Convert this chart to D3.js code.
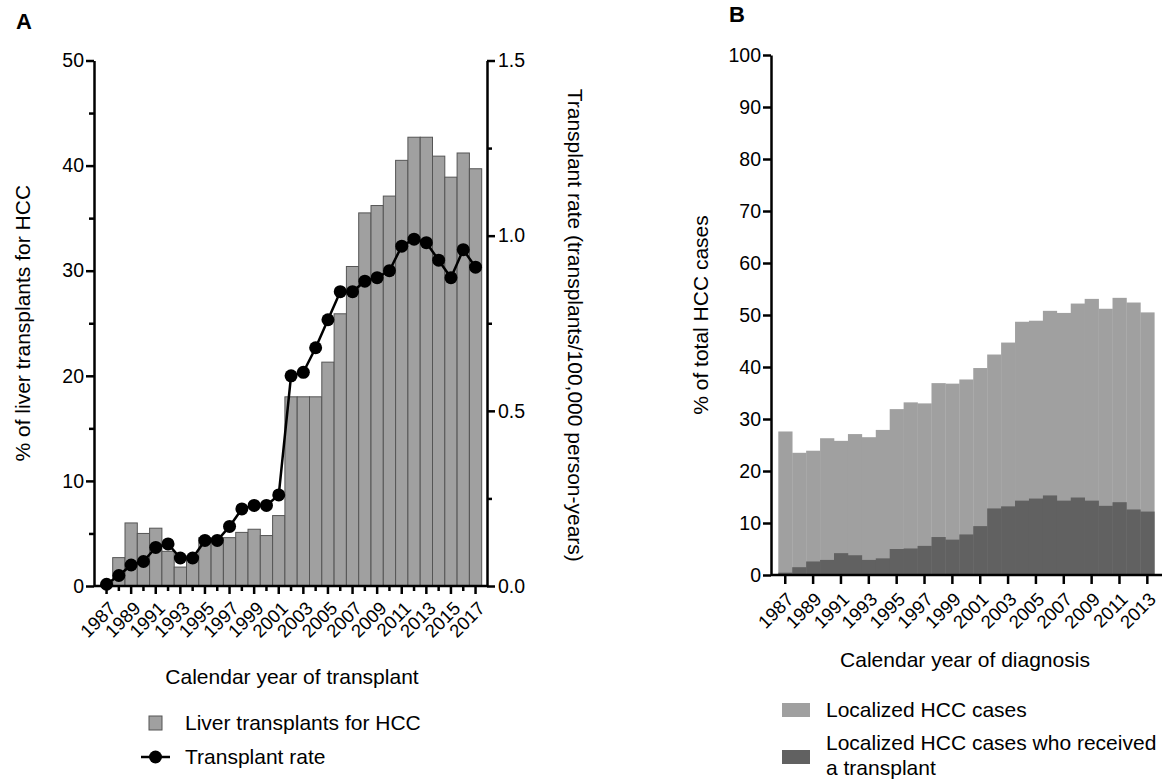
<!DOCTYPE html>
<html>
<head>
<meta charset="utf-8">
<script src="https://cdn.jsdelivr.net/npm/d3@7"></script>
<style>
  body { margin: 0; background: #fff; }
  text { font-family: "Liberation Sans", Arial, sans-serif; fill: #000; }
</style>
</head>
<body>
<div id="chart"></div>
<script>
// ---- data, panel A ----
const yearsA = d3.range(1987, 2018);
const transplantPct = [0, 2.7, 6.0, 5.0, 5.5, 3.3, 1.8, 2.6, 4.6, 4.5, 4.6, 5.1, 5.4, 4.8, 6.7,
  18.0, 18.0, 18.0, 21.3, 25.9, 30.4, 35.5, 36.2, 37.1, 40.5, 42.7, 42.7, 40.9, 38.9, 41.2, 39.7];
const transplantRate = [0.005, 0.03, 0.06, 0.07, 0.11, 0.12, 0.08, 0.08, 0.13, 0.13, 0.17, 0.22, 0.23, 0.23, 0.26,
  0.60, 0.61, 0.68, 0.76, 0.84, 0.84, 0.87, 0.88, 0.90, 0.97, 0.99, 0.98, 0.93, 0.88, 0.96, 0.91];
const leftTicksA = [0, 10, 20, 30, 40, 50];
const rightTicksA = [0, 0.5, 1.0, 1.5];

// ---- data, panel B ----
const yearsB = d3.range(1987, 2014);
const localized = [27.6, 23.5, 23.9, 26.3, 25.8, 27.1, 26.5, 27.9, 31.9, 33.2, 33.0, 36.9, 36.8, 37.6,
  39.8, 42.4, 44.7, 48.7, 48.9, 50.8, 50.4, 52.2, 53.1, 51.2, 53.3, 52.4, 50.5];
const localizedTransplant = [0.45, 1.5, 2.6, 2.9, 4.2, 3.8, 2.9, 3.2, 5.0, 5.1, 5.6, 7.3, 6.8, 7.8,
  9.4, 12.8, 13.2, 14.3, 14.7, 15.3, 14.3, 14.9, 14.3, 13.3, 14.0, 12.6, 12.2];
const ticksB = d3.range(0, 101, 10);

const W = 1173, H = 782;
const svg = d3.select("#chart").append("svg")
  .attr("width", W).attr("height", H);

const lightGrey = "#a0a0a0", darkGrey = "#616161";
const fs = 21;       // titles & legend
const tickFs = 19.5; // y tick labels
const xTickFs = 18.5;

// ================= Panel A =================
const axA = {left: 94, right: 487, top: 60.5, bottom: 586};
const xA = d3.scaleBand().domain(yearsA).range([100.4, 481.7]).paddingInner(0);
const yA = d3.scaleLinear().domain([0, 50]).range([axA.bottom, axA.top]);
const yRate = d3.scaleLinear().domain([0, 1.5]).range([axA.bottom, axA.top]);

const gA = svg.append("g");

gA.append("g").selectAll("rect")
  .data(yearsA.map((y, i) => ({year: y, v: transplantPct[i]})))
  .join("rect")
    .attr("x", d => xA(d.year))
    .attr("width", xA.bandwidth())
    .attr("y", d => yA(d.v))
    .attr("height", d => yA(0) - yA(d.v))
    .attr("fill", lightGrey)
    .attr("stroke", "#555")
    .attr("stroke-width", 1);

const ratePts = yearsA.map((y, i) => ({year: y, v: transplantRate[i]}));
gA.append("path")
  .datum(ratePts)
  .attr("fill", "none")
  .attr("stroke", "#000")
  .attr("stroke-width", 2.5)
  .attr("d", d3.line().x(d => xA(d.year) + xA.bandwidth() / 2).y(d => yRate(d.v)));
gA.append("g").selectAll("circle")
  .data(ratePts)
  .join("circle")
    .attr("cx", d => xA(d.year) + xA.bandwidth() / 2)
    .attr("cy", d => yRate(d.v))
    .attr("r", 6.5)
    .attr("fill", "#000");

// left axis
const leftA = gA.append("g").attr("transform", `translate(${axA.left},0)`)
  .call(d3.axisLeft(yA).tickValues(d3.range(0, 51, 5)).tickSize(8).tickSizeOuter(0)
    .tickFormat(d => leftTicksA.includes(d) ? d : ""));
leftA.selectAll(".tick line").filter(d => !leftTicksA.includes(d)).attr("x2", -5);
// right axis
const isMajorR = d => rightTicksA.some(t => Math.abs(t - d) < 1e-6);
const rightA = gA.append("g").attr("transform", `translate(${axA.right},0)`)
  .call(d3.axisRight(yRate).tickValues(d3.range(0, 1.51, 0.25)).tickSize(8).tickSizeOuter(0)
    .tickFormat(d => isMajorR(d) ? d3.format(".1f")(d) : ""));
rightA.selectAll(".tick line").filter(d => !isMajorR(d)).attr("x2", 5);
// bottom axis
const botA = gA.append("g").attr("transform", `translate(0,${axA.bottom})`)
  .call(d3.axisBottom(xA).tickSize(8).tickSizeOuter(0)
    .tickFormat(d => (d - 1987) % 2 === 0 ? d : ""));
botA.select(".domain").attr("d", `M${axA.left},0H${axA.right}`);
botA.selectAll(".tick line").filter(d => (d - 1987) % 2 !== 0).attr("y2", 5);
botA.selectAll(".tick text")
  .attr("transform", "translate(6,19) rotate(-45)")
  .attr("text-anchor", "end")
  .attr("dy", "0.35em")
  .attr("y", 0).attr("x", 0);

[leftA, rightA, botA].forEach(g => {
  g.selectAll(".domain, .tick line").attr("stroke", "#000").attr("stroke-width", 2.5);
  g.selectAll(".tick text").style("font-size", tickFs + "px").style("font-family", "Liberation Sans, Arial, sans-serif");
});
botA.selectAll(".tick text").style("font-size", xTickFs + "px");
leftA.selectAll(".tick text").attr("x", -10);
rightA.selectAll(".tick text").attr("x", 11);

// titles
gA.append("text").attr("transform", `translate(30,${(axA.top + axA.bottom) / 2}) rotate(-90)`)
  .attr("text-anchor", "middle").style("font-size", fs + "px")
  .text("% of liver transplants for HCC");
gA.append("text").attr("transform", `translate(568,${(axA.top + axA.bottom) / 2 + 2}) rotate(90)`)
  .attr("text-anchor", "middle").style("font-size", fs + "px")
  .text("Transplant rate (transplants/100,000 person-years)");
gA.append("text").attr("x", 292).attr("y", 684)
  .attr("text-anchor", "middle").style("font-size", fs + "px")
  .text("Calendar year of transplant");
gA.append("text").attr("x", 16).attr("y", 29).style("font-size", "22px").style("font-weight", "bold").text("A");

// legend A
gA.append("rect").attr("x", 149).attr("y", 716).attr("width", 13).attr("height", 14)
  .attr("fill", lightGrey).attr("stroke", "#555").attr("stroke-width", 1);
gA.append("text").attr("x", 185).attr("y", 730).style("font-size", fs + "px").text("Liver transplants for HCC");
gA.append("line").attr("x1", 141).attr("x2", 170).attr("y1", 757).attr("y2", 757)
  .attr("stroke", "#000").attr("stroke-width", 2.5);
gA.append("circle").attr("cx", 155.5).attr("cy", 757).attr("r", 6.5).attr("fill", "#000");
gA.append("text").attr("x", 185).attr("y", 764).style("font-size", fs + "px").text("Transplant rate");

// ================= Panel B =================
const axB = {left: 771, right: 1162, top: 55, bottom: 575};
const xB = d3.scaleBand().domain(yearsB).range([778.3, 1154.3]).paddingInner(0);
const yB = d3.scaleLinear().domain([0, 100]).range([axB.bottom, axB.top]);

const gB = svg.append("g");
gB.append("g").selectAll("rect")
  .data(yearsB.map((y, i) => ({year: y, v: localized[i]})))
  .join("rect")
    .attr("x", d => xB(d.year))
    .attr("width", xB.bandwidth() + 0.3)
    .attr("y", d => yB(d.v))
    .attr("height", d => yB(0) - yB(d.v))
    .attr("fill", lightGrey);
gB.append("g").selectAll("rect")
  .data(yearsB.map((y, i) => ({year: y, v: localizedTransplant[i]})))
  .join("rect")
    .attr("x", d => xB(d.year))
    .attr("width", xB.bandwidth() + 0.3)
    .attr("y", d => yB(d.v))
    .attr("height", d => yB(0) - yB(d.v))
    .attr("fill", darkGrey);

const leftB = gB.append("g").attr("transform", `translate(${axB.left},0)`)
  .call(d3.axisLeft(yB).tickValues(ticksB).tickSize(8).tickSizeOuter(0));
const botB = gB.append("g").attr("transform", `translate(0,${axB.bottom})`)
  .call(d3.axisBottom(xB).tickValues(yearsB.filter(d => (d - 1987) % 2 === 0)).tickSize(9).tickSizeOuter(0));
botB.select(".domain").attr("d", `M${axB.left},0H${axB.right}`);
botB.selectAll(".tick text")
  .attr("transform", "translate(5,21) rotate(-45)")
  .attr("text-anchor", "end")
  .attr("dy", "0.35em")
  .attr("y", 0).attr("x", 0);
[leftB, botB].forEach(g => {
  g.selectAll(".domain, .tick line").attr("stroke", "#000").attr("stroke-width", 2.5);
  g.selectAll(".tick text").style("font-size", tickFs + "px").style("font-family", "Liberation Sans, Arial, sans-serif");
});
botB.selectAll(".tick text").style("font-size", xTickFs + "px");
leftB.selectAll(".tick text").attr("x", -10);

gB.append("text").attr("transform", `translate(708,${(axB.top + axB.bottom) / 2}) rotate(-90)`)
  .attr("text-anchor", "middle").style("font-size", fs + "px")
  .text("% of total HCC cases");
gB.append("text").attr("x", 965).attr("y", 667)
  .attr("text-anchor", "middle").style("font-size", fs + "px")
  .text("Calendar year of diagnosis");
gB.append("text").attr("x", 729).attr("y", 22).style("font-size", "22px").style("font-weight", "bold").text("B");

// legend B
gB.append("rect").attr("x", 782).attr("y", 703).attr("width", 28).attr("height", 14).attr("fill", lightGrey);
gB.append("text").attr("x", 826).attr("y", 717).style("font-size", fs + "px").text("Localized HCC cases");
gB.append("rect").attr("x", 782).attr("y", 750).attr("width", 28).attr("height", 14).attr("fill", darkGrey);
gB.append("text").attr("x", 826).attr("y", 750).style("font-size", fs + "px").text("Localized HCC cases who received");
gB.append("text").attr("x", 826).attr("y", 775).style("font-size", fs + "px").text("a transplant");
</script>
</body>
</html>
